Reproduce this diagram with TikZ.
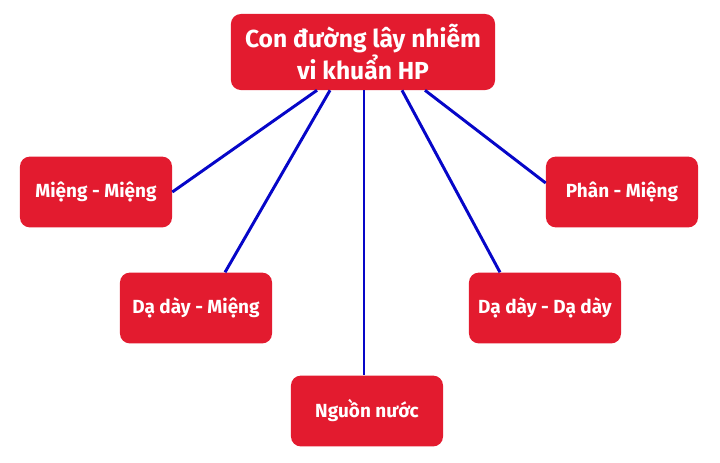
\documentclass[tikz,border=0pt]{standalone}
\usepackage{fontspec}
\setmainfont{Fira Sans}
\usepackage{tikz}
\usetikzlibrary{positioning, calc}
\definecolor{boxred}{HTML}{E31B2F}
\definecolor{linkblue}{HTML}{0606C8}

\begin{document}
\begin{tikzpicture}[x=0.025cm, y=-0.025cm,
    route/.style={fill=boxred, rounded corners=7pt, text=white, font=\bfseries\fontsize{13.5}{16}\selectfont, minimum width=3.8cm, minimum height=1.77cm},
    link/.style={draw=linkblue, line width=2.1pt}]
            \useasboundingbox (0,0) rectangle (720,462);
            \node [route, minimum width=6.6cm, minimum height=1.9cm, align=center, font=\bfseries\fontsize{17.5}{21}\selectfont] (source) at (363,52) {Con đường lây nhiễm\\vi khuẩn HP};
            % the five routes round the source
            \node [route] (mouth) at (96,192) {Miệng - Miệng};
            \node [route] (stomachMouth) at (196,308) {Dạ dày - Miệng};
            \node [route] (water) at (367,411) {Nguồn nước};
            \node [route] (stomach) at (545,308) {Dạ dày - Dạ dày};
            \node [route] (faeces) at (622,192) {Phân - Miệng};

            \draw [link] ($(source.south)+(-46,0)$) -- (mouth.east);
            \draw [link] ($(source.south)+(-33,0)$) -- ($(stomachMouth.north)+(29,0)$);
            \draw [link] ($(source.south)+(1,0)$) -- ($(water.north)+(-3,0)$);
            \draw [link] ($(source.south)+(39,0)$) -- ($(stomach.north)+(-45,0)$);
            \draw [link] ($(source.south)+(62,0)$) -- ($(faeces.west)+(0,-9)$);
        \end{tikzpicture}
\end{document}
